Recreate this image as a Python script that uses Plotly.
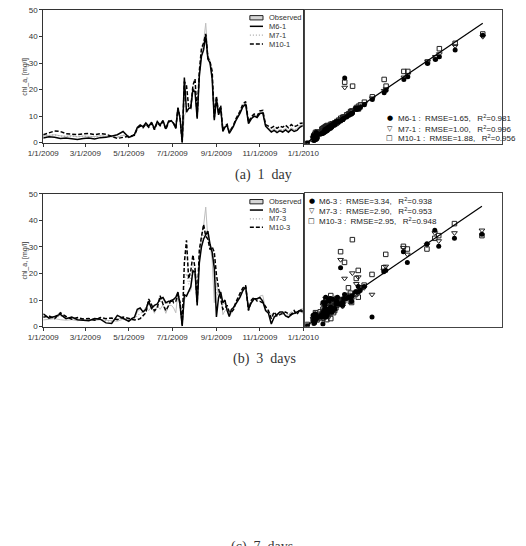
import pandas as pd
import plotly.graph_objects as go

W, H = 526, 546

# ---------------- data ----------------
days = [0, 8, 16, 24, 32, 40, 48, 56, 64, 72, 80, 88, 96, 104, 112,
        120, 124, 128, 132, 136, 140, 144, 148, 152, 156, 160, 164, 168, 172, 176,
        180, 183, 186, 189, 192, 195, 198, 201, 204, 207, 210, 213, 216, 219, 222, 225, 228, 231, 234, 237,
        240, 243, 246, 249, 252, 255, 258, 261, 264, 267, 270,
        276, 280, 284, 288, 292, 296, 300, 304, 308, 312, 316, 320, 324, 328, 332, 336, 340, 344, 348, 352,
        356, 360, 364]

observed = [2.5, 2.8, 3.0, 2.6, 2.4, 2.6, 2.2, 2.5, 2.4, 2.3, 2.6, 2.4, 2.2, 2.0, 2.8,
            2.2, 2.3, 3.0, 5.5, 6.5, 5.8, 7.2, 6.0, 7.5, 5.0, 7.8, 6.5, 8.2, 5.0, 8.0,
            8.0, 7.0, 5.2, 12.8, 9.5, 0.5, 10.0, 12.0, 13.0, 13.5, 20.5, 20.0, 9.5, 26.0, 34.0, 38.0, 45.0, 33.0, 31.0, 25.0,
            9.0, 17.0, 11.0, 13.5, 4.5, 6.0, 6.8, 3.8, 5.0, 6.5, 8.5,
            11.5, 14.0, 15.0, 7.5, 9.5, 10.5, 9.8, 11.5, 11.8, 6.5, 5.5, 4.5, 5.2, 4.2, 5.0, 4.6, 5.4, 4.4, 5.6, 4.8,
            5.2, 6.4, 6.8]

m6_1 = [1.8, 2.2, 2.0, 1.6, 1.8, 1.5, 1.2, 1.6, 1.8, 1.4, 1.9, 2.0, 2.6, 3.0, 4.2,
        2.0, 2.4, 3.1, 5.7, 6.7, 6.0, 7.4, 6.2, 7.7, 5.2, 8.0, 6.7, 8.4, 5.2, 8.2,
        8.2, 7.2, 5.4, 13.2, 9.0, 0.2, 24.5, 11.5, 12.8, 13.2, 20.0, 19.0, 9.0, 25.0, 32.5, 35.0, 40.5, 31.5, 30.0, 24.0,
        8.5, 16.5, 10.5, 13.0, 4.2, 5.8, 6.5, 3.5, 4.8, 6.2, 8.2,
        11.0, 13.5, 14.5, 7.2, 9.0, 10.0, 9.5, 11.0, 11.2, 6.2, 5.0, 4.0, 4.6, 3.8, 4.5, 4.0, 4.8, 3.9, 5.0, 4.2,
        4.6, 5.8, 6.4]

m7_1 = [2.4, 2.7, 3.0, 2.5, 2.3, 2.5, 2.2, 2.4, 2.3, 2.2, 2.5, 2.4, 2.3, 2.1, 2.9,
        2.3, 2.3, 3.0, 5.6, 6.6, 5.9, 7.3, 6.1, 7.6, 5.1, 7.9, 6.6, 8.3, 5.1, 8.1,
        8.0, 7.0, 5.3, 12.9, 9.3, 0.4, 21.0, 12.5, 13.0, 13.4, 20.4, 19.8, 9.4, 25.8, 33.5, 36.5, 40.0, 32.5, 30.8, 24.8,
        8.9, 17.0, 10.8, 13.4, 4.4, 6.0, 6.7, 3.8, 5.0, 6.4, 8.4,
        11.4, 13.9, 14.9, 7.4, 9.4, 10.4, 9.7, 11.4, 11.7, 6.4, 5.4, 4.5, 5.1, 4.2, 5.0, 4.5, 5.3, 4.4, 5.5, 4.8,
        5.1, 6.3, 6.7]

m10_1 = [3.0, 3.8, 4.4, 4.2, 3.4, 3.2, 3.0, 3.3, 3.5, 3.0, 3.4, 3.2, 2.4, 1.6, 2.0,
         2.4, 2.6, 2.8, 5.3, 6.3, 5.6, 7.0, 5.8, 7.3, 4.9, 7.6, 6.4, 8.0, 5.0, 7.8,
         8.3, 7.3, 5.6, 13.0, 9.4, 0.0, 23.0, 21.5, 13.5, 13.0, 21.5, 24.0, 9.8, 27.0, 35.5, 37.5, 41.0, 32.0, 30.5, 27.0,
         9.5, 17.5, 11.2, 14.0, 4.8, 6.3, 6.9, 4.0, 5.3, 6.6, 8.8,
         11.8, 14.5, 15.5, 7.8, 9.8, 10.8, 10.0, 12.0, 12.2, 6.8, 6.2, 5.6, 6.2, 5.4, 6.2, 5.8, 6.6, 5.6, 6.8, 6.0,
         6.4, 7.2, 7.4]

m6_3 = [4.8, 3.2, 3.8, 4.6, 3.0, 3.6, 2.6, 2.4, 2.2, 3.0, 2.8, 1.4, 1.2, 4.2, 3.0,
        2.0, 3.0, 3.5, 6.5, 7.0, 5.5, 6.5, 9.5, 6.8, 8.0, 8.5, 10.5, 11.0, 9.0, 9.5,
        9.5, 10.2, 11.0, 13.0, 8.0, 0.2, 12.0, 11.5, 13.0, 15.0, 21.0, 20.5, 8.0, 24.0, 30.0, 33.0, 34.5, 36.0, 31.0, 28.0,
        22.0, 3.6, 11.0, 13.0, 9.0, 10.0, 6.0, 3.8, 6.5, 7.2, 8.5,
        11.0, 13.5, 15.0, 6.5, 9.0, 10.5, 10.5, 11.0, 9.5, 6.0, 5.0, 1.0, 3.5, 4.5, 5.5, 5.5, 4.0, 3.5, 4.5, 5.0,
        5.5, 6.0, 5.5]

m7_3 = [4.0, 3.5, 3.4, 4.0, 3.3, 3.2, 3.0, 2.6, 2.5, 2.8, 3.0, 2.2, 2.0, 3.0, 3.2,
        2.6, 2.8, 3.0, 4.0, 5.0, 5.5, 6.0, 8.5, 8.0, 7.5, 9.0, 9.5, 10.0, 8.5, 9.0,
        9.8, 10.0, 10.5, 12.5, 7.5, 0.5, 18.0, 20.0, 16.0, 18.5, 22.5, 21.0, 10.5, 27.0, 32.0, 35.0, 36.0, 35.0, 30.5, 29.5,
        25.0, 12.0, 12.0, 12.5, 8.0, 9.0, 6.5, 4.5, 6.0, 7.0, 8.0,
        11.5, 14.0, 14.5, 7.5, 9.5, 10.5, 10.0, 10.5, 10.0, 6.5, 5.5, 3.0, 4.0, 5.0, 5.0, 5.0, 4.5, 4.0, 5.0, 5.5,
        5.0, 5.5, 5.0]

m10_3 = [3.5, 4.0, 3.0, 5.2, 3.8, 2.8, 3.4, 2.9, 3.0, 2.4, 3.4, 3.0, 3.2, 2.6, 3.6,
         3.2, 2.8, 2.5, 2.6, 3.0, 4.0, 5.2, 10.4, 8.0, 6.0, 7.0, 11.6, 8.5, 6.0, 8.0,
         10.5, 9.0, 9.5, 12.0, 9.0, 0.8, 24.0, 32.5, 18.0, 21.0, 27.0, 22.0, 9.0, 29.0, 34.0, 38.5, 34.0, 33.0, 29.0, 30.0,
         28.0, 19.5, 14.5, 11.0, 6.5, 7.0, 8.0, 5.5, 5.5, 6.4, 9.0,
         12.5, 14.5, 15.5, 6.0, 10.0, 11.0, 9.6, 9.5, 9.0, 7.5, 6.0, 3.0, 5.5, 4.0, 4.5, 5.0, 5.5, 4.8, 4.5, 6.0,
         4.5, 6.5, 6.0]

tick_dates = ["2009-01-01", "2009-03-01", "2009-05-01", "2009-07-01", "2009-09-01", "2009-11-01", "2010-01-01"]
tick_text = ["1/1/2009", "3/1/2009", "5/1/2009", "7/1/2009", "9/1/2009", "11/1/2009", "1/1/2010"]
y_ticks = [0, 10, 20, 30, 40, 50]
one_to_one = [0, 45]

names_1 = ["M6-1", "M7-1", "M10-1"]
rmse_1 = [1.65, 1.00, 1.88]
r2_1 = [0.981, 0.996, 0.956]
names_3 = ["M6-3", "M7-3", "M10-3"]
rmse_3 = [3.34, 2.90, 2.95]
r2_3 = [0.938, 0.953, 0.948]
captions = ["(a)\u00a0\u00a01\u00a0\u00a0day", "(b)\u00a0\u00a03\u00a0\u00a0days", "(c)\u00a0\u00a07\u00a0\u00a0days"]

# ---------------- helpers ----------------
def px(x):
    return x / W

def py(y):
    return 1 - y / H

dates = pd.Timestamp("2009-01-01") + pd.to_timedelta(days, unit="D")

FONT = "Liberation Sans, Arial, sans-serif"
SERIF = "Liberation Serif, Times New Roman, serif"

line_styles = [
    dict(color="black", width=1.5, dash="solid"),
    dict(color="#a8a8a8", width=1.2, dash="1px,2px"),
    dict(color="black", width=1.5, dash="4px,2px"),
]
marker_styles = [
    dict(symbol="circle", size=5, color="black"),
    dict(symbol="triangle-down-open", size=5, color="#222", line=dict(width=1)),
    dict(symbol="square-open", size=4.5, color="#222", line=dict(width=1)),
]

fig = go.Figure()

panels = [
    ("x", "y", "x2", "y2", [m6_1, m7_1, m10_1], names_1),
    ("x3", "y3", "x4", "y4", [m6_3, m7_3, m10_3], names_3),
]

for tx, ty, sx, sy, models, names in panels:
    fig.add_trace(go.Scatter(x=dates, y=observed, mode="lines", xaxis=tx, yaxis=ty,
                             line=dict(color="#bdbdbd", width=1), showlegend=False, name="Observed"))
    for k in [1, 2, 0]:
        fig.add_trace(go.Scatter(x=dates, y=models[k], mode="lines", xaxis=tx, yaxis=ty,
                                 line=line_styles[k], showlegend=False, name=names[k]))
    for k in [2, 1, 0]:
        fig.add_trace(go.Scatter(x=observed, y=models[k], mode="markers", xaxis=sx, yaxis=sy,
                                 marker=marker_styles[k], showlegend=False, name=names[k]))
    fig.add_trace(go.Scatter(x=one_to_one, y=one_to_one, mode="lines", xaxis=sx, yaxis=sy,
                             line=dict(color="black", width=1.2), showlegend=False))

ts_x = dict(type="date", range=["2009-01-01", "2010-01-01"], tickvals=tick_dates, ticktext=tick_text,
            ticks="outside", ticklen=3, tickcolor="#333", showline=True, linecolor="#333", linewidth=1,
            mirror=True, showgrid=False, zeroline=False, tickfont=dict(family=FONT, size=8, color="#333"))
ts_y = dict(range=[0, 50], tickvals=y_ticks, ticks="outside", ticklen=3, tickcolor="#333",
            showline=True, linecolor="#333", linewidth=1, mirror=True, showgrid=False, zeroline=False,
            tickfont=dict(family=FONT, size=8, color="#333"))
sc_ax = dict(range=[0, 50], showticklabels=False, ticks="", showline=True, linecolor="#444", linewidth=1,
             mirror=True, showgrid=False, zeroline=False)

fig.update_layout(
    width=W, height=H, margin=dict(l=0, r=0, t=0, b=0),
    paper_bgcolor="white", plot_bgcolor="white", showlegend=False,
    xaxis=dict(ts_x, domain=[px(29), px(306)], anchor="y"),
    yaxis=dict(ts_y, domain=[py(141), py(6)], anchor="x"),
    xaxis2=dict(sc_ax, domain=[px(308), px(518)], anchor="y2"),
    yaxis2=dict(sc_ax, domain=[py(142), py(6)], anchor="x2"),
    xaxis3=dict(ts_x, domain=[px(29), px(306)], anchor="y3"),
    yaxis3=dict(ts_y, domain=[py(328), py(193)], anchor="x3"),
    xaxis4=dict(sc_ax, domain=[px(308), px(517)], anchor="y4"),
    yaxis4=dict(sc_ax, domain=[py(328), py(192)], anchor="x4"),
)

shapes = []
annotations = []

# time-series legends (manual, compact)
ts_legends = [
    ([14, 22.7, 31.7, 40.7], names_1),
    ([201, 209.5, 218.5, 227], names_3),
]
for rows, names in ts_legends:
    r0 = rows[0]
    shapes.append(dict(type="rect", xref="paper", yref="paper", x0=px(249), x1=px(263),
                       y0=py(r0 + 2.2), y1=py(r0 - 2.2), fillcolor="#d6d6d6",
                       line=dict(color="#222", width=1)))
    labels = ["Observed"] + names
    for i, r in enumerate(rows):
        if i > 0:
            st = line_styles[i - 1]
            shapes.append(dict(type="line", xref="paper", yref="paper", x0=px(249), x1=px(263),
                               y0=py(r), y1=py(r),
                               line=dict(color=st["color"], width=st["width"], dash=st["dash"])))
        annotations.append(dict(text=labels[i], x=px(267), y=py(r), xref="paper", yref="paper",
                                xanchor="left", yanchor="middle", showarrow=False,
                                font=dict(family=FONT, size=7.5, color="#333")))

# scatter legends
glyphs = ["\u25CF", "\u25BD", "\u25A1"]
sc_legends = [
    (398, 405, [116.3, 127, 136.3], names_1, rmse_1, r2_1),
    (315, 321, [200.7, 210.7, 220.7], names_3, rmse_3, r2_3),
]
for mx, tx0, rows, names, rm, r2 in sc_legends:
    for i, r in enumerate(rows):
        annotations.append(dict(text=glyphs[i], x=px(mx), y=py(r), xref="paper", yref="paper",
                                xanchor="center", yanchor="middle", showarrow=False,
                                font=dict(family="DejaVu Sans", size=7, color="black")))
        txt = f"{names[i]} :  RMSE={rm[i]:.2f},   R<sup>2</sup>={r2[i]:.3f}"
        annotations.append(dict(text=txt, x=px(tx0), y=py(r), xref="paper", yref="paper",
                                xanchor="left", yanchor="middle", showarrow=False,
                                font=dict(family=FONT, size=8, color="#222")))

# y-axis titles
for yc in [73.5, 260.5]:
    annotations.append(dict(text="chl_a, [mg/l]", x=px(10), y=py(yc), xref="paper", yref="paper",
                            xanchor="center", yanchor="middle", showarrow=False, textangle=-90,
                            font=dict(family=FONT, size=7, color="#333")))

# captions
for cap, (cx, cy) in zip(captions, [(264, 174), (265, 361), (262, 552)]):
    annotations.append(dict(text=cap, x=px(cx), y=py(cy), xref="paper", yref="paper",
                            xanchor="center", yanchor="middle", showarrow=False,
                            font=dict(family=SERIF, size=14, color="#333")))

fig.update_layout(shapes=shapes, annotations=annotations)
fig.write_html("out.html")
